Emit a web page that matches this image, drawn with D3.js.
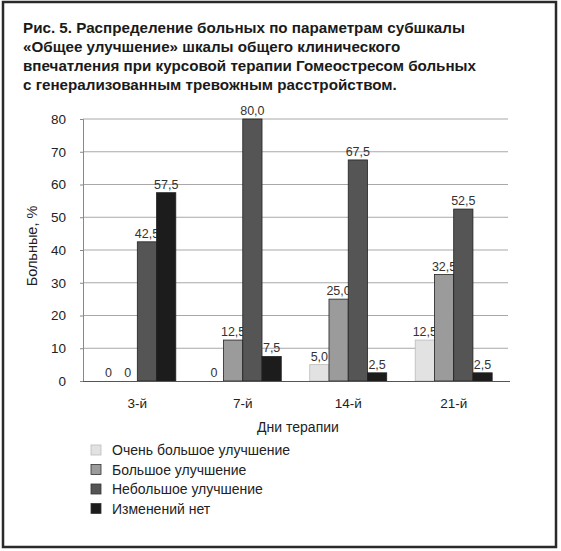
<!DOCTYPE html>
<html><head><meta charset="utf-8">
<script src="https://cdn.jsdelivr.net/npm/d3@7"></script>
<style>body{margin:0;background:#fff}svg{display:block}text{font-family:"Liberation Sans",Arial,sans-serif}</style>
</head><body>
<script>
const titleLines = [
  "Рис. 5. Распределение больных по параметрам субшкалы",
  "«Общее улучшение» шкалы общего клинического",
  "впечатления при курсовой терапии Гомеостресом больных",
  "с генерализованным тревожным расстройством."
];
const categories = ["3-й", "7-й", "14-й", "21-й"];
const seriesNames = ["Очень большое улучшение", "Большое улучшение", "Небольшое улучшение", "Изменений нет"];
const veryLarge = [0, 0, 5.0, 12.5];
const large = [0, 12.5, 25.0, 32.5];
const small = [42.5, 80.0, 67.5, 52.5];
const noChange = [57.5, 7.5, 2.5, 2.5];
const valueLabels = [
  ["0", "0", "5,0", "12,5"],
  ["0", "12,5", "25,0", "32,5"],
  ["42,5", "80,0", "67,5", "52,5"],
  ["57,5", "7,5", "2,5", "2,5"]
];
const yTicks = [0, 10, 20, 30, 40, 50, 60, 70, 80];
const colors = ["#e2e2e2", "#9b9b9b", "#555555", "#1c1c1c"];

const W = 561, H = 551;
const svg = d3.select("body").append("svg").attr("width", W).attr("height", H);

svg.append("rect").attr("x", 3).attr("y", 2).attr("width", 553).attr("height", 545)
  .attr("fill", "#fff").attr("stroke", "#2a2a2a").attr("stroke-width", 2.5);

svg.append("g").selectAll("text").data(titleLines).join("text")
  .attr("x", 23).attr("y", (d, i) => 33 + i * 19)
  .attr("font-size", 15.2).attr("font-weight", "bold").attr("fill", "#1a1a1a")
  .text(d => d);

const series = [veryLarge, large, small, noChange];
const x0 = d3.scaleBand().domain(categories).range([83, 508]).paddingInner(0.27).paddingOuter(0.15);
const x1 = d3.scaleBand().domain(d3.range(4)).range([0, x0.bandwidth()]);
const y = d3.scaleLinear().domain([0, 80]).range([381, 119]);

// gridlines
svg.append("g").selectAll("line").data(yTicks.filter(t => t > 0)).join("line")
  .attr("x1", 83).attr("x2", 508).attr("y1", d => y(d)).attr("y2", d => y(d))
  .attr("stroke", "#a8a8a8").attr("stroke-width", 1);

// y axis
const ya = svg.append("g").attr("transform", "translate(83,0)")
  .call(d3.axisLeft(y).tickValues(yTicks).tickSize(3).tickPadding(14));
ya.select(".domain").attr("stroke", "#888");
ya.selectAll(".tick line").attr("stroke", "#888");
ya.selectAll(".tick text").attr("font-size", 13.5).attr("fill", "#222").attr("font-family", "Liberation Sans, Arial, sans-serif");

// bars
const g = svg.append("g");
categories.forEach((c, ci) => {
  series.forEach((s, si) => {
    const v = s[ci];
    const bx = x0(c) + x1(si);
    if (v > 0) {
      g.append("rect").attr("x", bx).attr("y", y(v)).attr("width", x1.bandwidth()).attr("height", y(0) - y(v))
        .attr("fill", colors[si]).attr("stroke", si === 0 ? "#bbb" : "#222").attr("stroke-width", 0.8);
    }
    g.append("text").attr("x", bx + x1.bandwidth() / 2).attr("y", y(v) - 4)
      .attr("text-anchor", "middle").attr("font-size", 12.5).attr("fill", "#333")
      .text(valueLabels[si][ci]);
  });
});

// x axis
const xa = svg.append("g").attr("transform", "translate(0,381)")
  .call(d3.axisBottom(x0).tickSize(0).tickPadding(17));
xa.select(".domain").attr("stroke", "#555").attr("d", "M83,0.5H510");
xa.selectAll(".tick text").attr("font-size", 13.5).attr("fill", "#222").attr("font-family", "Liberation Sans, Arial, sans-serif");

svg.append("text").attr("x", 298).attr("y", 432).attr("text-anchor", "middle")
  .attr("font-size", 14).attr("fill", "#222").text("Дни терапии");

svg.append("text").attr("transform", "translate(37,246) rotate(-90)").attr("text-anchor", "middle")
  .attr("font-size", 14.5).attr("fill", "#222").text("Больные, %");

// legend
const lg = svg.append("g").selectAll("g").data(seriesNames).join("g")
  .attr("transform", (d, i) => `translate(91,${450 + i * 19.5})`);
lg.append("rect").attr("x", 0).attr("y", -5).attr("width", 10).attr("height", 10)
  .attr("fill", (d, i) => colors[i]).attr("stroke", (d, i) => i === 0 ? "#bbb" : "#333").attr("stroke-width", 0.8);
lg.append("text").attr("x", 21).attr("y", 5).attr("font-size", 14).attr("fill", "#222").text(d => d);
</script>
</body></html>
